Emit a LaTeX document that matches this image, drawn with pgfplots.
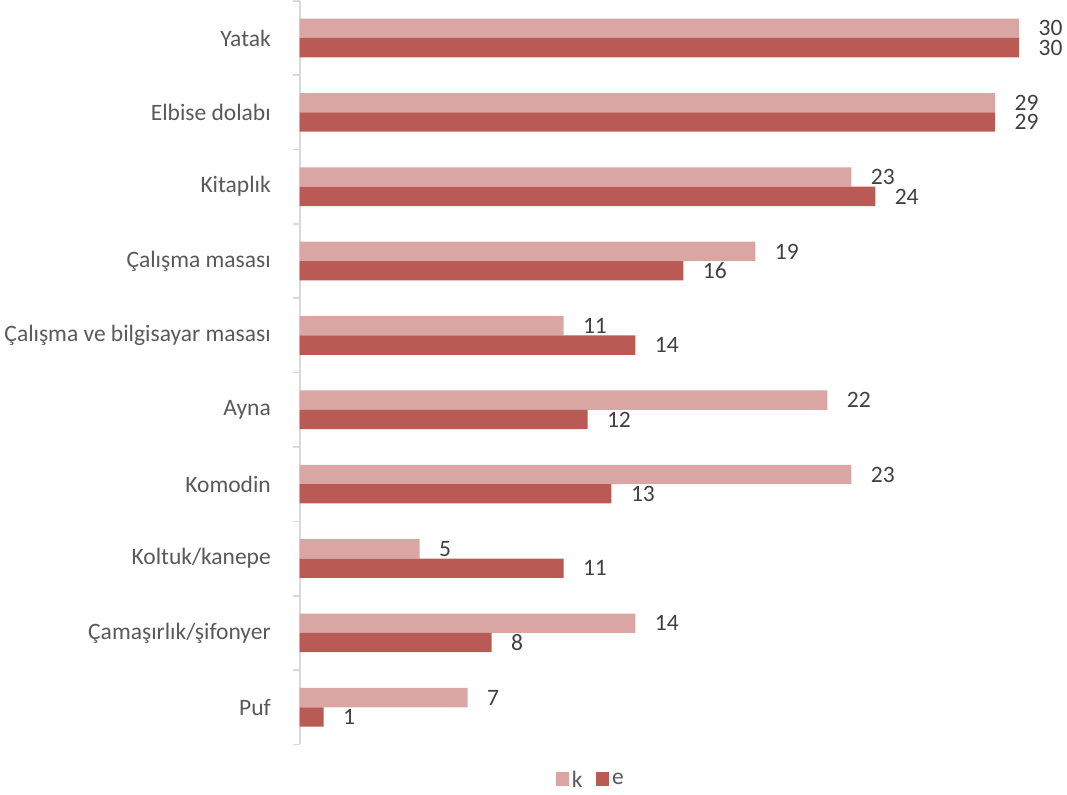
\documentclass[border=0pt]{standalone}
\usepackage{pgfplots}
\pgfplotsset{compat=1.18}
\usepackage{fontspec}
\setmainfont{Carlito}
\definecolor{kcol}{HTML}{DAA6A4}
\definecolor{ecol}{HTML}{BA5A55}
\definecolor{txt}{HTML}{404040}
\definecolor{lbl}{HTML}{595959}
\definecolor{axgray}{HTML}{D9D9D9}

\begin{document}
\begin{tikzpicture}
\begin{axis}[
    scale only axis,
    width=535.5pt, height=553.5pt,
    xbar,
    xmin=0, xmax=30,
    ymin=-0.5, ymax=9.5,
    y dir=reverse,
    bar width=0.26,
    hide x axis,
    axis y line*=left,
    y axis line style={axgray, line width=1.2pt},
    ytick={0,...,9},
    yticklabels={Yatak, Elbise dolabı, Kitaplık, Çalışma masası, Çalışma ve bilgisayar masası, Ayna, Komodin, Koltuk/kanepe, Çamaşırlık/şifonyer, Puf},
    major tick length=0pt,
    minor ytick={-0.5,0.5,...,9.5},
    minor tick length=5pt,
    tick align=outside,
    minor tick style={axgray, line width=1.2pt},
    yticklabel style={font=\fontsize{17.5}{21}\selectfont, text=lbl, xshift=-18pt},
    /pgf/number format/assume math mode=true,
    nodes near coords,
    nodes near coords style={font=\fontsize{17.5}{21}\selectfont, text=txt, anchor=west, xshift=11pt},
    legend columns=2,
    legend style={at={(0.405,-0.048)}, anchor=center, draw=none,
        font=\fontsize{17.5}{21}\selectfont, text=lbl,
        /tikz/every even column/.append style={column sep=8pt}},
    legend image code/.code={\fill[#1] (2pt,-4pt) rectangle (12pt,6pt);},
]
\addplot[fill=kcol, draw=none, bar shift=-0.13] coordinates {
    (30,0) (29,1) (23,2) (19,3) (11,4) (22,5) (23,6) (5,7) (14,8) (7,9)
};
\addplot[fill=ecol, draw=none, bar shift=0.13] coordinates {
    (30,0) (29,1) (24,2) (16,3) (14,4) (12,5) (13,6) (11,7) (8,8) (1,9)
};
\legend{k, e}
\end{axis}
\end{tikzpicture}
\end{document}
